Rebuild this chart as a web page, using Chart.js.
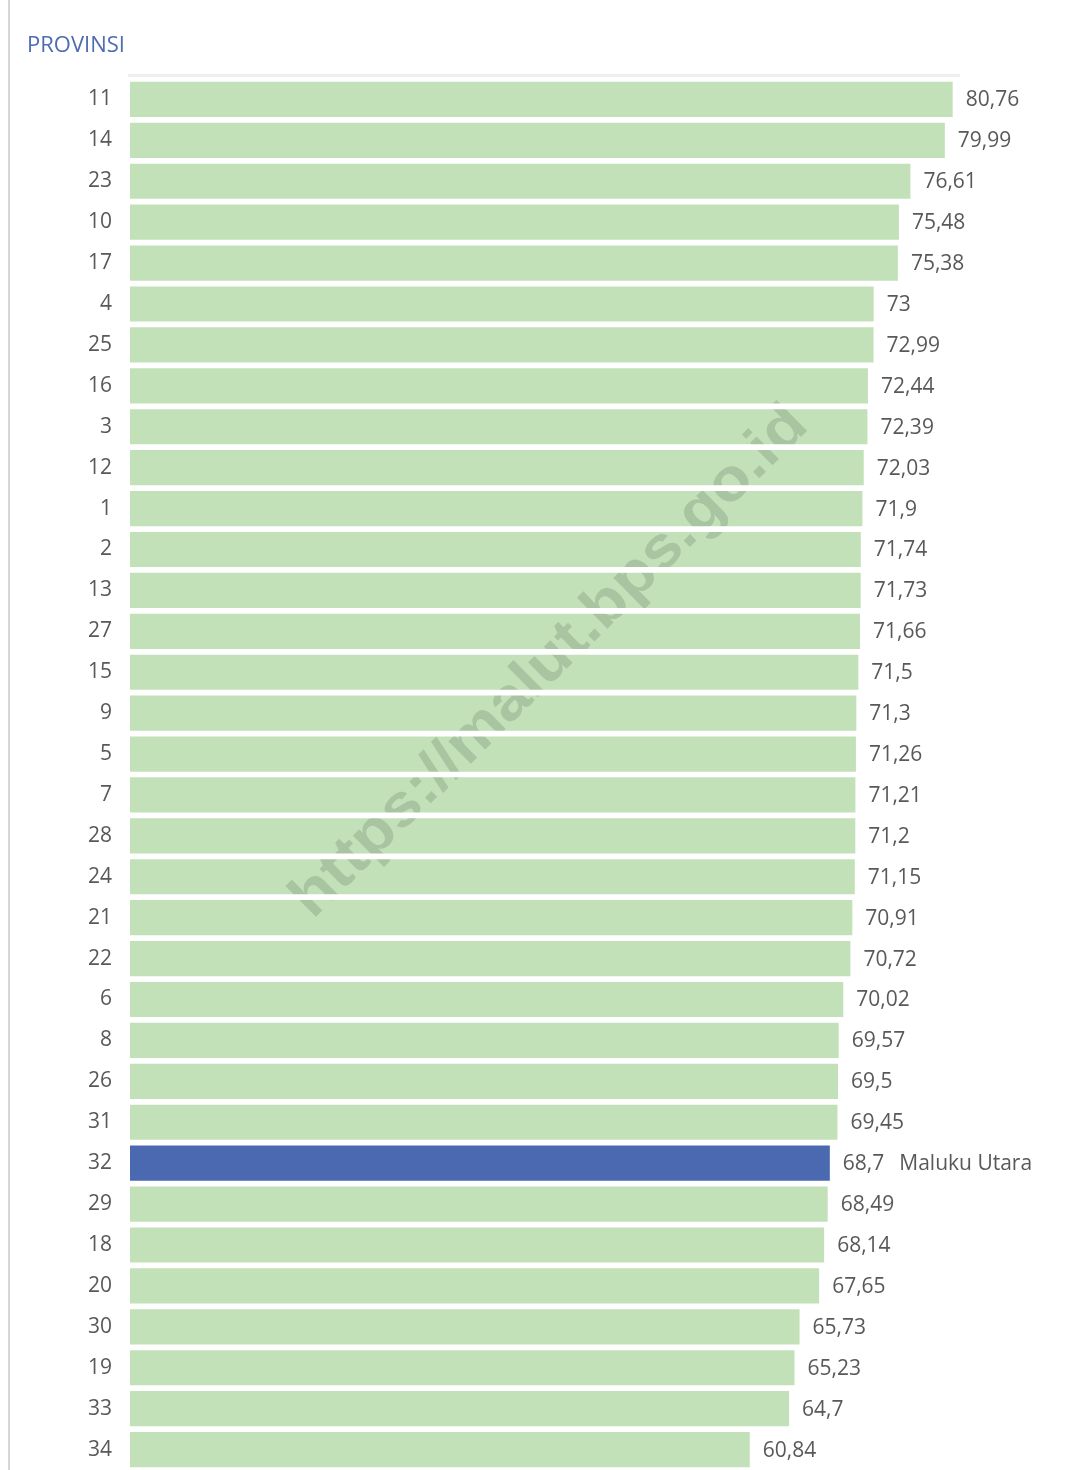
<!DOCTYPE html>
<html>
<head>
<meta charset="utf-8">
<script src="https://cdn.jsdelivr.net/npm/chart.js@4.4.1/dist/chart.umd.min.js"></script>
<style>
  html, body { margin: 0; padding: 0; background: #ffffff; }
  #wrap { position: relative; width: 1067px; height: 1470px; }
  canvas { display: block; }
</style>
</head>
<body>
<div id="wrap"><canvas id="c" width="1067" height="1470"></canvas></div>
<script>
// Province codes (category labels)
const provinces = ['11','14','23','10','17','4','25','16','3','12','1','2','13','27','15','9','5','7','28','24','21','22','6','8','26','31','32','29','18','20','30','19','33','34'];
// Values
const values = [80.76,79.99,76.61,75.48,75.38,73,72.99,72.44,72.39,72.03,71.9,71.74,71.73,71.66,71.5,71.3,71.26,71.21,71.2,71.15,70.91,70.72,70.02,69.57,69.5,69.45,68.7,68.49,68.14,67.65,65.73,65.23,64.7,60.84];
// Highlighted province
const highlightCode = '32';
const highlightName = 'Maluku Utara';
const titleText = 'PROVINSI';
const watermarkText = 'https://malut.bps.go.id';

const GREEN = '#c2e1b8';
const BLUE = '#4a69b1';
const LABEL_COLOR = '#595959';
const FONT = '"Open Sans", "Liberation Sans", sans-serif';

const fmt = v => String(v).replace('.', ',');

const decorPlugin = {
  id: 'decor',
  beforeDraw(chart) {
    const ctx = chart.ctx;
    const ca = chart.chartArea;
    ctx.save();
    // left border line
    ctx.fillStyle = '#d6d6d6';
    ctx.fillRect(8, 0, 2, chart.height);
    // faint top line of plot area
    ctx.fillStyle = '#efefef';
    ctx.fillRect(ca.left - 2, ca.top - 5, 832, 3);
    // title
    ctx.fillStyle = '#4d6db3';
    ctx.font = '22px ' + FONT;
    ctx.textAlign = 'left';
    ctx.textBaseline = 'alphabetic';
    ctx.fillText(titleText, 27, 52);
    ctx.restore();
  },
  afterDatasetsDraw(chart) {
    const ctx = chart.ctx;
    // watermark only over bars
    ctx.save();
    ctx.globalCompositeOperation = 'source-atop';
    ctx.translate(550, 662);
    ctx.rotate(-44.7 * Math.PI / 180);
    ctx.font = 'bold 60px "Liberation Sans", sans-serif';
    const w = ctx.measureText(watermarkText).width;
    const s = 700 / w;
    ctx.scale(s, 1);
    ctx.fillStyle = 'rgba(0,0,0,0.13)';
    ctx.textAlign = 'center';
    ctx.textBaseline = 'middle';
    ctx.fillText(watermarkText, 0, 0);
    ctx.restore();

    // value labels
    const meta = chart.getDatasetMeta(0);
    ctx.save();
    ctx.font = '21px ' + FONT;
    ctx.fillStyle = LABEL_COLOR;
    ctx.textAlign = 'left';
    ctx.textBaseline = 'middle';
    meta.data.forEach((bar, i) => {
      let txt = fmt(values[i]);
      const x = bar.x + 13;
      ctx.fillText(txt, x, bar.y + 1);
      if (provinces[i] === highlightCode) {
        const tw = ctx.measureText(txt).width;
        ctx.fillText(highlightName, x + tw + 15, bar.y + 1);
      }
    });
    ctx.restore();
  }
};

new Chart(document.getElementById('c'), {
  type: 'bar',
  data: {
    labels: provinces,
    datasets: [{
      data: values,
      backgroundColor: provinces.map(p => p === highlightCode ? BLUE : GREEN),
      borderWidth: 0,
      barPercentage: 0.86,
      categoryPercentage: 1.0
    }]
  },
  options: {
    indexAxis: 'y',
    responsive: false,
    animation: false,
    devicePixelRatio: 1,
    layout: { padding: { top: 79, bottom: 0, left: 0, right: 10 } },
    plugins: { legend: { display: false }, tooltip: { enabled: false } },
    scales: {
      x: {
        display: false,
        min: 0,
        max: 91
      },
      y: {
        grid: { display: false, drawTicks: false },
        border: { display: false },
        ticks: {
          color: LABEL_COLOR,
          font: { family: FONT, size: 21 },
          padding: 18
        },
        afterFit(scale) {
          scale.width = 130;
          scale.paddingTop = 0;
          scale.paddingBottom = 0;
        }
      }
    }
  },
  plugins: [decorPlugin]
});
</script>
</body>
</html>
